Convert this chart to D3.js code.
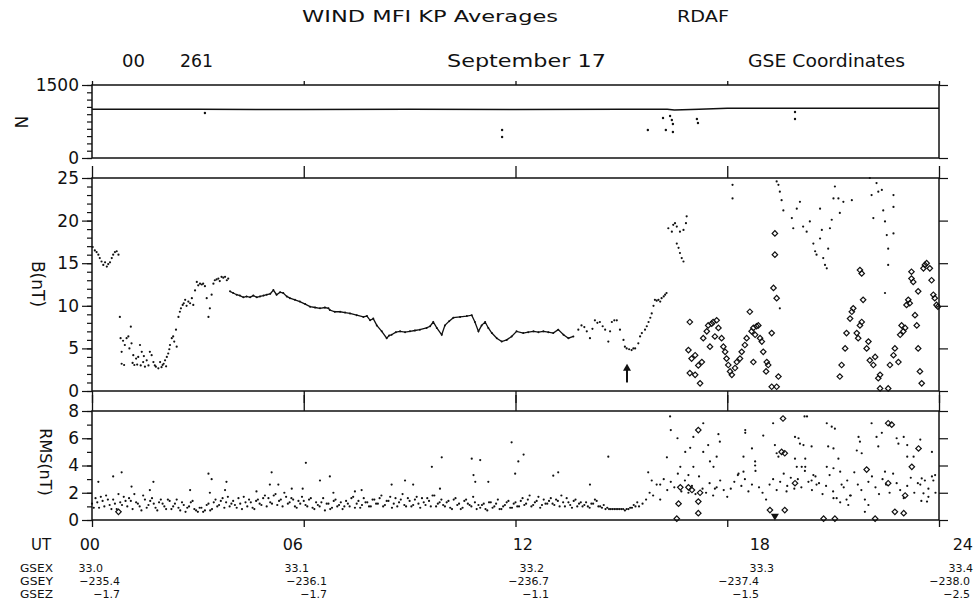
<!DOCTYPE html>
<html>
<head>
<meta charset="utf-8">
<script src="https://cdn.jsdelivr.net/npm/d3@7"></script>
<style>
body { margin: 0; background: #fff; }
text { font-family: "DejaVu Sans", sans-serif; fill: #111; }
</style>
</head>
<body>
<div id="plot"></div>
<script>
// ---- data ----
// time axis
var utHours = [0, 6, 12, 18, 24];
var utLabels = ["00", "06", "12", "18", "24"];
var gsexLabels = ["33.0", "33.1", "33.2", "33.3", "33.4"];
var gseyLabels = ["\u2212235.4", "\u2212236.1", "\u2212236.7", "\u2212237.4", "\u2212238.0"];
var gsezLabels = ["\u22121.7", "\u22121.7", "\u22121.1", "\u22121.5", "\u22122.5"];

// N panel
var nLabels = [0, 1500];
var nLineHours = [0, 3, 6, 9, 12, 15, 16.3, 16.5, 17.2, 18, 21, 24];
var nLineValues = [1000, 1000, 995, 1000, 995, 1000, 1000, 985, 1000, 1020, 1020, 1020];
var nDots = [[3.2, 925], [11.62, 575], [11.62, 430], [15.75, 575], [16.18, 822], [16.26, 575],
  [16.38, 863], [16.43, 780], [16.46, 700], [16.46, 535], [17.14, 800], [17.17, 720],
  [19.92, 945], [19.92, 800]];

// B panel
var bLabels = [0, 5, 10, 15, 20, 25];
var bEarly = [[0.02,16.9],[0.08,16.5],[0.13,16.3],[0.18,16.0],[0.22,15.6],[0.27,15.2],[0.32,14.8],
  [0.37,15.1],[0.42,14.6],[0.46,14.9],[0.51,15.1],[0.56,15.6],[0.60,16.0],[0.65,16.3],[0.70,16.4],
  [0.75,16.0],[0.79,8.7],[0.81,6.2],[0.84,4.6],[0.84,3.2],[0.88,5.9],[0.91,3.05],[0.93,5.4],
  [0.98,6.2],[1.03,6.4],[1.06,5.0],[1.10,7.55],[1.12,5.6],[1.15,3.3],[1.17,4.2],[1.20,3.05],
  [1.25,3.8],[1.28,3.1],[1.31,4.0],[1.36,5.4],[1.38,3.0],[1.41,4.6],[1.45,3.4],[1.47,4.1],
  [1.50,2.86],[1.55,3.6],[1.60,3.0],[1.64,4.6],[1.69,4.2],[1.74,3.4],[1.78,3.0],[1.81,2.86],
  [1.88,2.66],[1.93,3.4],[1.97,2.8],[2.00,3.05],[2.03,3.2],[2.07,3.6],[2.10,2.9],[2.12,4.0],
  [2.16,4.4],[2.19,4.9],[2.21,5.4],[2.26,6.2],[2.30,6.4],[2.33,5.8],[2.38,7.2],[2.40,5.2],
  [2.45,8.7],[2.49,9.3],[2.52,9.7],[2.57,10.1],[2.60,10.3],[2.64,10.7],[2.68,10.0],[2.73,10.5],
  [2.78,10.3],[2.83,10.9],[2.87,10.1],[2.92,11.8],[2.97,12.8],[3.01,12.4],[3.06,12.6],[3.11,12.5],
  [3.15,12.6],[3.20,12.3],[3.25,10.9],[3.30,8.7],[3.34,9.7],[3.39,11.3],[3.44,12.6],[3.48,13.0],
  [3.53,13.1],[3.58,13.2],[3.62,12.9],[3.67,13.4],[3.72,13.3],[3.77,13.4],[3.82,13.0],[3.86,13.2]];
var bLine = [[3.91,11.7],[4.00,11.5],[4.10,11.3],[4.19,11.2],[4.29,11.0],[4.38,11.1],[4.48,11.0],
  [4.57,11.2],[4.67,11.0],[4.76,11.1],[4.86,11.2],[4.95,11.3],[5.05,11.4],[5.14,11.85],[5.23,11.3],
  [5.33,11.6],[5.42,11.5],[5.52,11.1],[5.61,10.9],[5.75,10.7],[5.89,10.5],[6.04,10.2],[6.18,9.9],
  [6.32,9.8],[6.46,9.7],[6.60,9.8],[6.70,9.7],[6.74,9.5],[6.88,9.3],[7.03,9.3],[7.17,9.2],
  [7.31,9.1],[7.50,8.9],[7.69,8.7],[7.79,8.8],[7.88,8.3],[7.97,8.5],[8.07,7.7],[8.21,7.0],
  [8.35,6.2],[8.42,6.5],[8.49,6.6],[8.61,6.9],[8.73,7.0],[8.87,6.9],[9.01,7.0],[9.15,7.1],
  [9.29,7.2],[9.48,7.4],[9.58,7.6],[9.67,8.1],[9.77,7.4],[9.91,6.6],[10.00,7.7],[10.12,8.2],
  [10.24,8.6],[10.43,8.7],[10.62,8.8],[10.76,8.9],[10.85,8.1],[10.95,7.0],[11.04,7.7],[11.14,8.1],
  [11.23,7.4],[11.33,6.8],[11.47,6.2],[11.61,5.8],[11.75,6.0],[11.89,6.4],[12.03,7.0],[12.22,6.8],
  [12.36,6.9],[12.51,7.0],[12.65,6.9],[12.79,7.0],[12.93,6.9],[13.07,6.8],[13.21,7.2],[13.36,6.6],
  [13.50,6.2],[13.64,6.4]];
var bLate = [[13.78,7.2],[13.87,7.7],[13.95,7.5],[14.02,7.0],[14.11,6.2],[14.18,7.3],[14.25,8.3],
  [14.32,8.0],[14.39,8.1],[14.47,7.6],[14.54,7.2],[14.63,5.8],[14.68,7.0],[14.73,8.1],[14.80,8.3],
  [14.87,8.3],[14.96,7.2],[15.06,6.0],[15.10,5.2],[15.15,5.0],[15.22,4.9],[15.29,4.8],[15.34,5.0],
  [15.39,5.0],[15.48,5.6],[15.53,6.4],[15.58,6.8],[15.67,7.2],[15.72,7.6],[15.77,8.1],[15.82,8.6],
  [15.86,9.1],[15.91,10.0],[15.95,10.7],[16.00,10.6],[16.05,10.7],[16.10,10.5],[16.14,10.9],
  [16.20,11.1],[16.24,11.3],[16.28,11.5],
  [16.33,19.1],[16.43,18.7],[16.47,19.5],[16.52,19.7],[16.57,19.3],[16.66,18.7],[16.76,18.9],
  [16.83,19.7],[16.85,20.5],[16.57,17.3],[16.62,16.8],[16.66,16.2],[16.71,15.6],[16.76,15.2],
  [18.15,24.2],[18.15,22.6],
  [19.40,24.6],[19.45,24.2],[19.49,23.4],[19.54,22.4],[19.59,21.2],[19.83,20.3],[19.87,19.1],
  [19.97,21.4],[20.06,22.2],[20.15,19.3],[20.25,18.7],[20.34,19.9],[20.44,17.3],[20.49,16.4],
  [20.53,16.0],[20.63,17.9],[20.63,21.4],[20.68,18.9],[20.72,15.6],[20.77,14.8],[20.82,14.4],
  [20.86,16.7],[20.91,19.1],[20.96,20.1],[21.01,22.6],[21.05,24.0],[21.15,22.6],[21.19,20.9],
  [21.29,22.2],[21.53,22.4],[22.04,25.0],[22.09,23.0],[22.14,20.3],[22.23,24.4],[22.28,23.4],
  [22.38,23.6],[22.42,21.2],[22.47,19.9],[22.52,18.3],[22.56,16.7],[22.56,14.8],[22.71,23.0],
  [22.71,21.6],[22.71,18.5],[22.47,11.5],[19.49,9.7]];
var bDiamonds = [[16.94,8.1],[16.90,4.8],[16.99,3.8],[17.09,4.2],[16.94,2.1],[17.09,1.9],[17.18,3.0],
  [17.28,3.4],[17.23,0.9],[17.32,6.2],[17.42,7.0],[17.46,7.7],[17.56,7.9],[17.51,5.2],[17.60,8.1],
  [17.70,8.3],[17.75,7.4],[17.65,6.4],[17.84,6.2],[17.89,5.2],[17.94,4.6],[17.98,3.8],[18.03,3.05],
  [18.08,2.3],[18.13,1.9],[18.22,2.7],[18.27,3.4],[18.36,3.8],[18.41,4.6],[18.50,5.4],[18.55,6.2],
  [18.64,9.3],[18.69,7.0],[18.74,7.4],[18.79,6.6],[18.83,7.6],[18.88,7.7],[18.93,6.2],[18.98,5.8],
  [19.02,4.6],[19.12,3.4],[19.16,3.05],[19.10,2.3],[18.74,3.4],[19.26,6.8],[19.31,12.1],
  [19.40,10.9],[19.35,16.0],[19.35,18.5],[19.40,0.5],[19.45,1.7],[19.26,0.5],
  [21.19,1.7],[21.24,3.05],[21.34,5.0],[21.38,6.8],[21.48,8.5],[21.53,9.3],[21.57,9.7],[21.67,6.8],
  [21.71,6.2],[21.76,7.7],[21.81,8.1],[21.85,10.7],[21.81,13.8],[21.76,14.2],[21.95,5.0],
  [22.00,5.8],[22.04,3.6],[22.14,3.05],[22.19,4.0],[22.28,1.5],[22.33,1.9],[22.33,0.3],
  [22.56,0.3],[22.61,3.05],[22.71,4.2],[22.75,5.0],[22.85,3.4],[22.90,6.6],[22.99,7.0],
  [22.94,7.7],[23.04,7.4],[23.08,10.1],[23.13,10.7],[23.17,10.3],[23.22,14.0],[23.22,13.2],
  [23.27,12.8],[23.32,8.9],[23.37,7.7],[23.41,11.7],[23.41,5.0],[23.46,2.3],[23.51,0.9],
  [23.56,14.4],[23.60,14.8],[23.65,15.0],[23.74,14.4],[23.79,13.0],[23.84,11.3],[23.88,10.9],
  [23.93,10.1],[23.97,9.9]];
var arrowFrom = [15.16, 1.0];
var arrowTo = [15.16, 3.2];

// RMS panel
var rmsLabels = [0, 2, 4, 6, 8];
var rmsStep = 0.1;
var rmsQuietA = [
  1.2,1.6,0.9,1.4,1.8,1.1,1.5,0.8,1.3,1.7, 1.0,1.4,1.9,1.2,0.7,1.5,1.1,1.6,0.9,1.3,
  1.2,0.8,1.4,1.0,1.5,0.7,1.1,0.9,1.3,0.8, 0.6,0.9,0.7,1.2,0.8,1.5,1.1,1.6,1.3,1.0,
  1.4,0.9,1.2,1.7,1.0,1.3,0.8,1.5,1.1,1.8, 1.6,1.2,1.9,1.4,1.0,1.7,1.3,1.5,0.9,1.2,
  1.4,1.0,1.6,0.8,1.1,1.3,0.7,1.2,0.9,1.5, 1.1,0.8,1.4,1.0,1.7,1.2,0.9,1.6,1.3,1.0,
  1.5,1.2,1.8,1.1,1.4,0.9,1.6,1.3,1.9,1.0, 1.4,1.1,1.7,0.9,1.3,1.6,1.0,1.8,1.2,1.5,
  1.0,1.4,0.8,1.6,1.2,0.9,1.5,1.1,1.7,0.8, 0.9,1.2,0.7,1.3,1.0,1.5,0.8,1.1,1.4,0.9,
  1.3,1.0,1.6,1.2,1.8,1.1,1.4,0.9,1.5,1.2, 1.6,1.1,1.4,1.8,1.0,1.3,0.9,1.5,1.2,1.0,
  1.3,0.9,1.2,1.4,1.0,1.1,0.9,0.8,0.8,0.8, 0.8,0.7,0.8,0.9,1.0];
var rmsQuietB = [
  0.9,1.3,1.7,1.0,1.5,0.8,1.2,1.9,1.1,1.4, 1.6,0.8,1.3,1.0,1.8,0.9,1.4,1.2,0.7,1.5,
  1.0,1.5,0.8,1.2,0.9,1.3,0.6,1.0,1.4,0.7, 0.9,0.6,1.1,0.7,1.3,1.0,1.4,0.9,1.7,1.2,
  1.1,1.6,0.8,1.3,1.5,0.9,1.4,1.2,1.6,1.0, 1.3,1.8,1.1,1.5,2.0,1.2,1.6,1.0,1.4,1.7,
  1.1,1.5,0.9,1.3,1.0,1.6,1.2,0.8,1.4,1.0, 1.3,1.0,1.2,1.6,0.9,1.4,1.1,1.3,1.0,1.5,
  1.2,1.6,1.0,1.4,1.7,1.2,1.0,1.5,1.1,1.6, 1.0,1.5,1.2,1.6,1.1,1.4,1.8,1.0,1.3,1.1,
  1.3,0.9,1.5,1.1,0.8,1.4,1.2,1.0,1.3,1.1, 1.1,0.8,1.3,0.9,1.2,0.8,1.0,1.3,0.9,1.2,
  1.0,1.4,1.1,1.5,1.0,1.3,1.7,1.1,1.2,1.4, 1.2,1.5,1.0,1.3,1.6,1.1,1.4,1.0,1.3,1.1,
  1.0,1.2,1.5,1.0,0.9,0.8,0.8,0.8,0.8,0.8, 0.8,0.8,0.9,1.1,1.3];
var rmsActiveStart = 15.5;
var rmsActive = [
  1.0,1.2,1.5,2.0,1.8, 2.6,1.5,3.0,2.2,2.8,2.4,3.4,2.1,2.9,2.0,
  2.5,1.9,3.2,2.3,2.0,2.7,1.8,2.4,2.9,2.2, 1.7,2.3,2.8,3.3,2.5,3.0,2.1,2.6,3.6,2.4,
  2.0,1.5,2.6,3.0,2.2,2.8,3.4,2.5,3.1,2.3, 3.0,2.4,3.6,2.8,2.2,3.2,2.7,1.9,2.5,3.3,
  2.1,1.6,1.3,2.4,2.9,1.8,3.5,2.6,2.2,1.5, 2.8,3.2,2.4,1.9,3.0,2.6,2.0,3.4,2.7,2.2,
  1.6,2.5,3.1,2.0,2.7,1.4,2.9,2.3,3.2,2.0];
var rmsDots = [[0.18,2.8],[0.60,3.2],[0.84,3.5],[1.12,2.45],[1.64,2.2],[1.74,2.8],[2.78,2.2],
  [3.30,3.4],[3.39,3.0],[3.34,2.0],[3.77,2.2],[3.81,2.8],[4.66,2.1],[5.04,2.6],[5.09,3.5],
  [5.28,2.6],[5.66,2.3],[5.97,2.3],[6.06,4.2],[6.46,2.9],[6.74,3.2],[6.84,2.0],[7.45,2.1],
  [7.64,2.2],[8.49,2.6],[8.87,2.9],[9.10,2.6],[9.63,3.9],[9.86,2.3],[9.91,4.6],[10.76,4.5],
  [10.81,3.3],[10.86,2.8],[11.0,4.4],[11.23,2.8],[11.89,5.7],[11.99,3.4],[12.08,4.3],[12.23,4.8],
  [13.07,3.25],[13.21,3.5],[14.11,2.6],[14.63,4.65],[15.76,3.5],[15.86,2.9],[16.10,2.6],
  [16.29,4.6],[16.38,7.6],[16.40,6.6],[16.59,6.0],[16.67,3.9],[16.81,5.0],[16.95,5.3],
  [17.04,6.1],[17.32,7.1],[17.04,3.9],[16.90,3.3],[17.46,5.5],[17.32,5.0],[17.51,4.3],
  [17.61,3.9],[17.75,6.3],[17.79,5.75],[17.70,4.65],[17.65,2.3],[18.51,6.6],[18.51,6.4],
  [18.46,4.65],[18.70,5.25],[18.79,4.3],[18.79,4.0],[18.32,3.4],[18.46,3.55],[19.02,6.2],
  [19.30,7.1],[20.19,7.6],[20.26,7.6],[19.35,5.5],[19.40,4.9],[19.45,4.65],[19.92,6.1],
  [20.02,6.0],[20.06,5.6],[20.16,5.5],[20.39,5.4],[19.92,4.5],[19.97,3.9],[20.11,3.9],
  [20.21,3.9],[20.21,4.5],[19.68,2.1],[20.44,3.3],[20.39,2.9],[20.53,2.6],[20.82,7.1],
  [20.96,6.85],[21.05,6.7],[21.01,5.25],[20.86,5.4],[21.15,4.5],[20.82,3.9],[21.01,3.8],
  [21.24,2.6],[21.01,1.6],[21.20,3.55],[21.38,1.5],[21.48,1.8],[21.43,1.1],[21.72,6.1],
  [21.76,5.75],[21.67,5.1],[21.81,4.9],[22.00,1.1],[21.90,0.6],[22.09,7.1],[22.23,6.1],
  [22.28,5.4],[22.38,6.4],[22.47,3.55],[22.80,6.0],[22.85,5.6],[23.0,6.1],[23.1,5.5],
  [23.1,4.65],[23.47,5.9],[23.28,4.65],[23.51,3.05],[23.47,2.6],[23.8,5.0],[23.89,3.3],
  [23.84,2.9],[23.66,1.35],[23.7,1.7],[23.56,1.96]];
var rmsDiamonds = [[0.75,0.6],[16.57,0.1],[16.62,1.2],[16.67,2.4],[16.90,2.4],[17.0,2.2],
  [17.18,1.35],[17.18,0.5],[17.18,6.6],[17.23,2.0],[19.21,0.73],[19.58,7.45],[19.54,5.0],
  [19.63,4.9],[19.63,0.73],[19.92,2.7],[20.73,0.1],[21.05,0.1],[21.95,3.7],[22.19,0.1],
  [22.56,7.1],[22.66,7.0],[22.56,2.7],[23.04,1.8],[23.23,3.9],[23.42,5.25],[22.75,0.6],[23.0,0.5]];
var rmsTriangles = [[19.35, 0.15]];

// ---- layout ----
const total_width = 977;
const total_height = 601;
const plotLeft = 92, plotRight = 939;

var svg = d3.select("#plot").append("svg").attr("width", total_width).attr("height", total_height);
svg.append("rect").attr("width", total_width).attr("height", total_height).attr("fill", "#fff");

var x = d3.scaleLinear().domain([0, 24]).range([plotLeft, plotRight]);
var yN = d3.scaleLinear().domain([0, 1500]).range([158, 85]);
var yB = d3.scaleLinear().domain([0, 25]).range([391, 178]);
var yR = d3.scaleLinear().domain([0, 8]).range([520, 411]);

var hourTicks = d3.range(0, 25);

function xTicks(ypos, up, majorLen, minorLen) {
    var axis = up ? d3.axisTop : d3.axisBottom;
    var g = svg.append("g").attr("transform", "translate(0," + ypos + ")");
    g.call(axis(x).tickValues(hourTicks).tickSize(minorLen).tickFormat(""));
    g.call(axis(x).tickValues(utHours).tickSize(majorLen).tickFormat(""));
    g.selectAll(".domain").remove();
    g.selectAll("line").attr("stroke", "#111").attr("stroke-width", 1.3);
}

function yTicks(scale, minorVals, labelVals, leftMajor, leftMinor) {
    var gl = svg.append("g").attr("transform", "translate(" + plotLeft + ",0)");
    gl.call(d3.axisLeft(scale).tickValues(minorVals).tickSize(leftMinor).tickFormat(""));
    gl.append("g").call(d3.axisLeft(scale).tickValues(labelVals).tickSize(leftMajor).tickPadding(3).tickFormat(d3.format("d")));
    gl.selectAll(".domain").remove();
    gl.selectAll("line").attr("stroke", "#111").attr("stroke-width", 1.2);
    gl.selectAll("text").attr("font-family", "DejaVu Sans").attr("font-size", 17).attr("fill", "#111");

    var gr = svg.append("g").attr("transform", "translate(" + plotRight + ",0)");
    gr.call(d3.axisRight(scale).tickValues(minorVals).tickSize(5).tickFormat(""));
    gr.call(d3.axisRight(scale).tickValues(labelVals).tickSize(9).tickFormat(""));
    gr.selectAll(".domain").remove();
    gr.selectAll("line").attr("stroke", "#111").attr("stroke-width", 1.2);
}

function frame(scale) {
    var r = scale.range();
    svg.append("rect").attr("x", plotLeft).attr("y", r[1])
        .attr("width", plotRight - plotLeft).attr("height", r[0] - r[1])
        .attr("fill", "none").attr("stroke", "#111").attr("stroke-width", 1.5);
}

function dots(data, yScale, r) {
    svg.append("g").selectAll("circle").data(data).enter().append("circle")
        .attr("cx", function(d) {return x(d[0])})
        .attr("cy", function(d) {return yScale(d[1])})
        .attr("r", r || 1.1).attr("fill", "#111");
}

// open diamonds: a square turned by 45 degrees
function diamonds(data, yScale) {
    var sym = d3.symbol().type(d3.symbolSquare).size(15);
    svg.append("g").selectAll("path").data(data).enter().append("path")
        .attr("d", sym)
        .attr("transform", function(d) {return "translate(" + x(d[0]) + "," + yScale(d[1]) + ") rotate(45)"})
        .attr("fill", "none").attr("stroke", "#111").attr("stroke-width", 1.2);
}

// ---- titles ----
function label(txt, px, py, size, len, anchor) {
    var t = svg.append("text").attr("x", px).attr("y", py).attr("font-size", size).text(txt);
    if (len) t.attr("textLength", len).attr("lengthAdjust", "spacingAndGlyphs");
    if (anchor) t.attr("text-anchor", anchor);
    return t;
}
label("WIND MFI KP Averages", 302, 22, 16, 256);
label("RDAF", 677, 22, 16, 52);
label("00", 122, 67, 17, 23);
label("261", 180, 67, 17, 33);
label("September 17", 447, 67, 17, 159);
label("GSE Coordinates", 748, 67, 17, 157);

// ---- N panel ----
yTicks(yN, d3.range(0, 1501, 150), nLabels, 10, 5);
xTicks(85, true, 4, 2);
frame(yN);
svg.append("path").datum(d3.zip(nLineHours, nLineValues))
    .attr("d", d3.line().x(function(d) {return x(d[0])}).y(function(d) {return yN(d[1])}))
    .attr("fill", "none").attr("stroke", "#111").attr("stroke-width", 1.5);
dots(nDots, yN, 1.2);

// ---- B panel ----
yTicks(yB, d3.range(0, 26), bLabels, 10, 5);
xTicks(178, true, 12, 6);
xTicks(391, false, 12, 6);
frame(yB);
dots(bEarly, yB);
svg.append("path").datum(bLine)
    .attr("d", d3.line().x(function(d) {return x(d[0])}).y(function(d) {return yB(d[1])}))
    .attr("fill", "none").attr("stroke", "#111").attr("stroke-width", 1.3);
dots(bLine, yB, 1.0);
dots(bLate, yB);
diamonds(bDiamonds, yB);

// arrow marker
svg.append("line")
    .attr("x1", x(arrowFrom[0])).attr("y1", yB(arrowFrom[1]))
    .attr("x2", x(arrowTo[0])).attr("y2", yB(arrowTo[1]) + 4)
    .attr("stroke", "#111").attr("stroke-width", 2);
svg.append("path")
    .attr("d", "M" + x(arrowTo[0]) + "," + yB(arrowTo[1]) + " l-4,7 l8,0 z")
    .attr("fill", "#111");

// ---- RMS panel ----
yTicks(yR, d3.range(0, 9), rmsLabels, 10, 5);
xTicks(411, true, 16, 5);
xTicks(520, false, 7, 4);
frame(yR);
dots(rmsQuietA.map(function(v, i) {return [i * rmsStep, v]}), yR);
dots(rmsQuietB.map(function(v, i) {return [i * rmsStep + rmsStep / 2, v]}), yR);
dots(rmsActive.map(function(v, i) {return [rmsActiveStart + i * rmsStep, v]}), yR);
dots(rmsDots, yR);
diamonds(rmsDiamonds, yR);
svg.append("g").selectAll("path").data(rmsTriangles).enter().append("path")
    .attr("d", d3.symbol().type(d3.symbolTriangle).size(28))
    .attr("transform", function(d) {return "translate(" + x(d[0]) + "," + (yR(d[1]) - 2) + ") rotate(180)"})
    .attr("fill", "#111");

// ---- axis titles ----
function vlabel(txt, cx, cy, size) {
    svg.append("text").attr("transform", "translate(" + cx + "," + cy + ") rotate(90)")
        .attr("text-anchor", "middle").attr("dominant-baseline", "central")
        .attr("font-size", size).text(txt);
}
vlabel("N", 21, 122, 17);
vlabel("B(nT)", 38, 284, 17);
vlabel("RMS(nT)", 45, 462, 16);

// ---- orbit table, squeezed so the last row stays inside the picture ----
var utEnds = [100, 303, 533, 770, 973];
var gsexEnds = [103, 309, 544, 774, 973];
var gseyEnds = [120, 327, 549, 759, 970];
label("UT", 31, 550, 15);
label("GSEX", 20, 572, 10.5, 33);
label("GSEY", 20, 585, 10.5, 33);
label("GSEZ", 20, 598, 10.5, 33);
utLabels.forEach(function(s, i) {label(s, utEnds[i], 550, 16, null, "end")});
gsexLabels.forEach(function(s, i) {label(s, gsexEnds[i], 572, 11, null, "end")});
gseyLabels.forEach(function(s, i) {label(s, gseyEnds[i], 585, 11, null, "end")});
gsezLabels.forEach(function(s, i) {label(s, gseyEnds[i], 598, 11, null, "end")});
</script>
</body>
</html>
